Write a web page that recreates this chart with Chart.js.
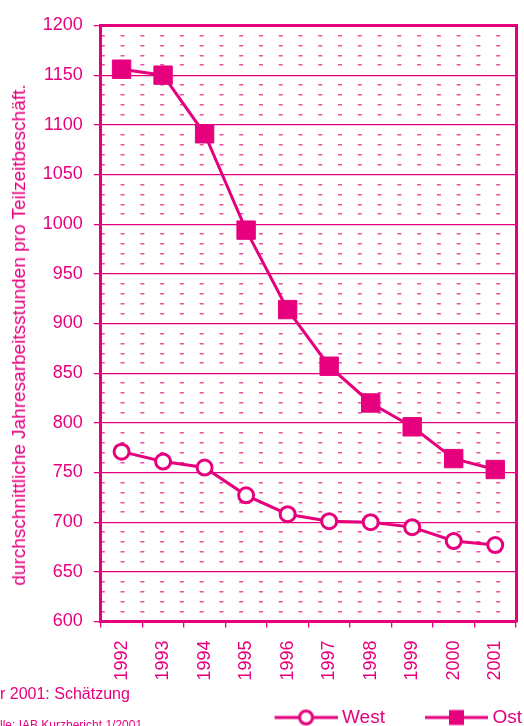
<!DOCTYPE html>
<html>
<head>
<meta charset="utf-8">
<script src="https://cdn.jsdelivr.net/npm/chart.js@4.4.1/dist/chart.umd.min.js"></script>
<style>
  html, body { margin: 0; padding: 0; background: #fff; overflow: hidden; }
  #wrap { position: relative; width: 524px; height: 737px; }
  .note { position: absolute; left: 0; color: #e6007e; white-space: nowrap;
          font-family: "Liberation Sans", Arial, sans-serif; }
  .note .lead { position: absolute; right: 100%; }
  #ytitle { position: absolute; left: 19px; top: 335px; color: #e6007e; white-space: nowrap;
            font-family: "Liberation Sans", Arial, sans-serif; font-size: 19px; line-height: 22px;
            transform: translate(-50%, -50%) rotate(-90deg); }
</style>
</head>
<body>
<div id="wrap">
  <canvas id="chart"></canvas>
  <div id="ytitle"></div>
  <div class="note" style="top:685.5px;font-size:16px;line-height:16px;"><span class="lead">Jah</span>r 2001: Schätzung</div>
  <div class="note" style="top:719px;font-size:12px;line-height:12px;"><span class="lead">Que</span>lle: IAB Kurzbericht 1/2001</div>
</div>
<script>
// Jahre (x-Achse)
const years = ['1992', '1993', '1994', '1995', '1996', '1997', '1998', '1999', '2000', '2001'];
// Durchschnittliche Jahresarbeitsstunden pro Teilzeitbeschäftigtem
const westHours = [771, 761, 755, 727, 708, 701, 700, 695, 681, 677];
const ostHours  = [1156, 1150, 1091, 994, 914, 857, 820, 796, 764, 753];
const seriesNames = ['West', 'Ost'];
// Wertebereich und Teilung der y-Achse
const yRange = [600, 1200];
const yMajorStep = 50;
const yMinorStep = 10;
const yTitle = 'durchschnittliche Jahresarbeitsstunden pro Teilzeitbeschäft.';

const MAGENTA = '#e6007e';
const MINOR = 'rgba(230,0,126,0.7)';
const FONT = '"Liberation Sans", Arial, sans-serif';

document.getElementById('ytitle').textContent = yTitle;

// Legendensymbol: kurze Linie mit Marker in der Mitte
function legendGlyph(kind) {
  const c = document.createElement('canvas');
  c.width = 106; c.height = 20;
  const g = c.getContext('2d');
  const x0 = 43, x1 = 106, cy = 10, cx = (x0 + x1) / 2;
  g.strokeStyle = MAGENTA;
  g.lineWidth = 3;
  g.beginPath(); g.moveTo(x0, cy); g.lineTo(x1, cy); g.stroke();
  if (kind === 'circle') {
    g.fillStyle = '#fff';
    g.beginPath(); g.arc(cx, cy, 6.5, 0, Math.PI * 2); g.fill(); g.stroke();
  } else {
    g.fillStyle = MAGENTA;
    g.fillRect(cx - 7.5, cy - 7.5, 15, 15);
  }
  return c;
}
const glyphs = [legendGlyph('circle'), legendGlyph('rect')];

new Chart(document.getElementById('chart'), {
  type: 'line',
  data: {
    labels: years,
    datasets: [
      {
        label: seriesNames[0],
        data: westHours,
        xAxisID: 'x', yAxisID: 'y',
        borderColor: MAGENTA, borderWidth: 3, tension: 0,
        pointStyle: 'circle', pointRadius: 7.5,
        pointBorderWidth: 3, pointBorderColor: MAGENTA, pointBackgroundColor: '#fff'
      },
      {
        label: seriesNames[1],
        data: ostHours,
        xAxisID: 'x', yAxisID: 'y',
        borderColor: MAGENTA, borderWidth: 3, tension: 0,
        pointStyle: 'rect', pointRadius: 13,
        pointBorderWidth: 1, pointBorderColor: MAGENTA, pointBackgroundColor: MAGENTA
      }
    ]
  },
  options: {
    responsive: true,
    maintainAspectRatio: false,
    animation: false,
    events: [],
    layout: { autoPadding: false, padding: { left: 8, right: 0, top: 25.5, bottom: 0 } },
    plugins: {
      tooltip: { enabled: false },
      legend: {
        position: 'bottom',
        align: 'end',
        labels: {
          usePointStyle: true,
          pointStyleWidth: 96,
          padding: 2,
          color: MAGENTA,
          font: { family: FONT, size: 19 },
          generateLabels(chart) {
            const items = Chart.defaults.plugins.legend.labels.generateLabels(chart);
            items.forEach(it => { it.pointStyle = glyphs[it.datasetIndex]; });
            return items;
          }
        }
      }
    },
    scales: {
      x: {
        type: 'category',
        position: 'bottom',
        offset: true,
        grid: {
          offset: true, drawOnChartArea: false, drawTicks: true,
          tickLength: 6, tickColor: MAGENTA, tickWidth: 1.3, color: MAGENTA, lineWidth: 1.3
        },
        border: { color: MAGENTA, width: 3 },
        ticks: {
          color: MAGENTA, font: { family: FONT, size: 18 },
          minRotation: 90, maxRotation: 90, padding: 13, autoSkip: false
        },
        afterFit(s) { s.height = 84.5; s.paddingLeft = 0; s.paddingRight = 0; }
      },
      xTop: {
        type: 'category',
        position: 'top',
        offset: true,
        grid: { display: false },
        ticks: { display: false },
        border: { color: MAGENTA, width: 3 },
        afterFit(s) { s.height = 0; s.paddingLeft = 0; s.paddingRight = 0; }
      },
      y: {
        position: 'left',
        min: yRange[0], max: yRange[1],
        ticks: {
          stepSize: yMajorStep, color: MAGENTA, font: { family: FONT, size: 18 }, padding: 11,
          callback: v => String(v)
        },
        grid: { color: MAGENTA, lineWidth: 1.3, tickLength: 7, tickColor: MAGENTA, tickWidth: 1.3 },
        border: { color: MAGENTA, width: 3 },
        afterFit(s) { s.width = 92.8; }
      },
      yMinor: {
        position: 'right',
        min: yRange[0], max: yRange[1],
        ticks: { display: false, stepSize: yMinorStep },
        grid: {
          drawTicks: false, lineWidth: 1.5,
          color: ctx => (ctx.tick && ctx.tick.value % yMajorStep === 0) ? 'rgba(0,0,0,0)' : MINOR
        },
        border: { color: MAGENTA, width: 3, dash: [4, 15.77], dashOffset: 0 },
        afterFit(s) { s.width = 8; }
      }
    }
  }
});
</script>
</body>
</html>
